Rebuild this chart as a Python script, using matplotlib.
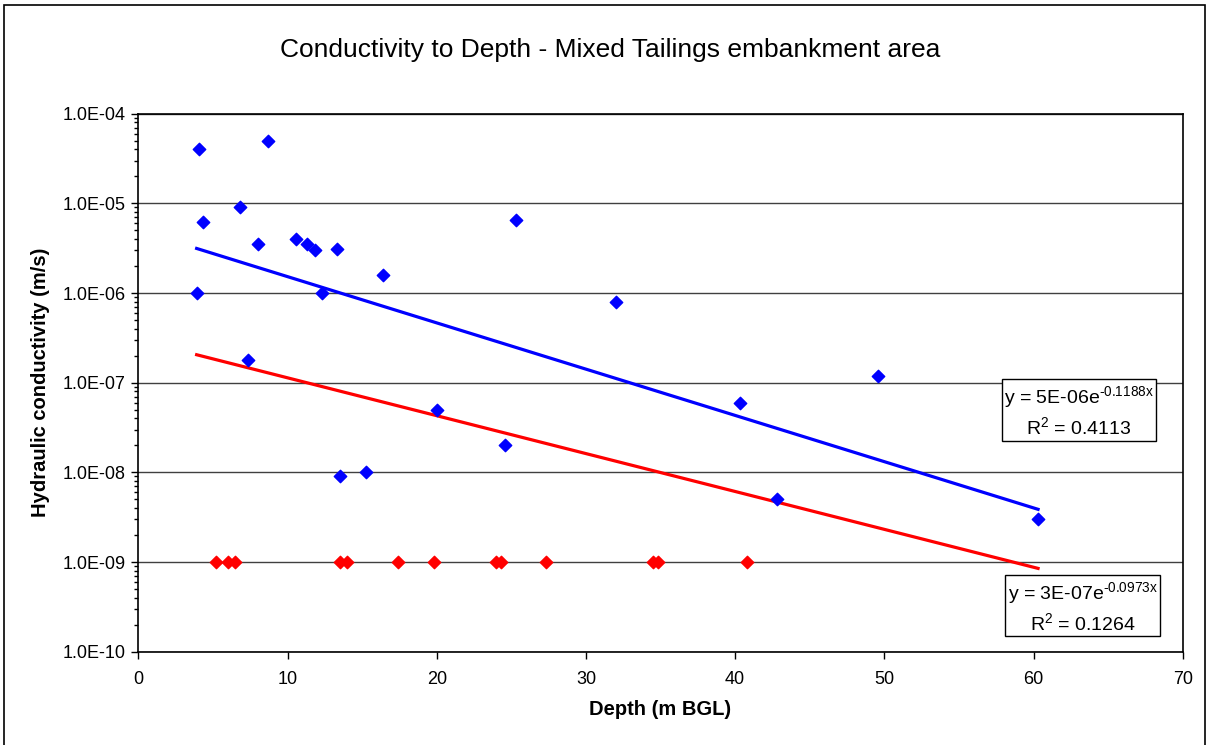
import matplotlib

matplotlib.use("Agg")
import matplotlib.pyplot as plt
import numpy as np
from matplotlib.patches import Rectangle
from matplotlib.ticker import FuncFormatter, LogLocator, NullFormatter

plt.rcParams.update(
    {
        "font.family": ["Liberation Sans", "DejaVu Sans"],
        "mathtext.fontset": "custom",
        "mathtext.rm": "Liberation Sans",
        "mathtext.it": "Liberation Sans:italic",
        "mathtext.bf": "Liberation Sans:bold",
    }
)

# measured conductivity (blue) and values at the detection limit (red)
depth_measured = [4.05, 8.71, 6.82, 4.34, 25.3, 8.0, 10.6, 11.3, 11.85, 13.3,
                  16.4, 3.91, 12.3, 7.37, 13.5, 15.26, 20.0, 24.6, 32.0, 40.3,
                  49.6, 42.8, 60.3]
k_measured = [4.0e-5, 5.0e-5, 9.0e-6, 6.2e-6, 6.5e-6, 3.5e-6, 4.0e-6, 3.5e-6,
              3.0e-6, 3.1e-6, 1.6e-6, 1.0e-6, 1.0e-6, 1.8e-7, 9.0e-9, 1.0e-8,
              5.0e-8, 2.0e-8, 8.0e-7, 6.0e-8, 1.2e-7, 5.0e-9, 3.0e-9]
depth_limit = [5.2, 6.0, 6.5, 13.5, 14.0, 17.4, 19.8, 24.0, 24.3, 27.3,
               34.5, 34.8, 40.8]
k_limit = [1.0e-9] * len(depth_limit)

# exponential trendlines y = a * exp(b x)
fit_measured = (5e-06, -0.1188, 0.4113)
fit_all = (3e-07, -0.0973, 0.1264)

fig = plt.figure(figsize=(12.09, 7.45), dpi=100)
# chart frame, its bottom edge runs off the canvas
fig.patches.append(
    Rectangle((4 / 1209, -0.01), 1201 / 1209, 1.01 - 5 / 745, transform=fig.transFigure,
              fill=False, edgecolor="black", linewidth=1.2)
)
ax = fig.add_axes([138.3 / 1209, 1 - 651.7 / 745, (1182.8 - 138.3) / 1209, (651.7 - 113.7) / 745])

ax.set_yscale("log")
ax.set_xlim(0, 70)
ax.set_ylim(1e-10, 1e-4)

ax.yaxis.set_major_locator(LogLocator(base=10, numticks=10))
ax.yaxis.set_minor_locator(LogLocator(base=10, subs=np.arange(2, 10), numticks=10))
ax.yaxis.set_major_formatter(FuncFormatter(lambda v, _: f"{v:.1E}"))
ax.yaxis.set_minor_formatter(NullFormatter())
ax.set_xticks(range(0, 71, 10))

ax.grid(True, which="major", axis="y", color="#404040", linewidth=1.0)
ax.set_axisbelow(True)
for side in ax.spines.values():
    side.set_color("black")
    side.set_linewidth(1.2)

ax.tick_params(axis="both", which="major", direction="out", length=5, width=1,
               labelsize=13, colors="black")
ax.tick_params(axis="y", which="minor", direction="out", length=3, width=1)
ax.tick_params(axis="x", pad=9)
ax.tick_params(axis="y", pad=4)

ax.scatter(depth_measured, k_measured, marker="D", s=40, color="#0000ff",
           edgecolors="#0000ff", zorder=4)
ax.scatter(depth_limit, k_limit, marker="D", s=40, color="#ff0000",
           edgecolors="#ff0000", zorder=4)

x_lo = min(depth_measured + depth_limit)
x_hi = max(depth_measured + depth_limit)
xs = np.linspace(x_lo, x_hi, 100)
ax.plot(xs, fit_measured[0] * np.exp(fit_measured[1] * xs), color="#0000ff",
        linewidth=2.3, zorder=3)
ax.plot(xs, fit_all[0] * np.exp(fit_all[1] * xs), color="#ff0000",
        linewidth=2.3, zorder=3)


def fit_label(fit):
    a, b, r2 = fit
    return (f"y = {a:.0E}e" + r"$^{\text{" + f"{b:.4f}" + r"x}}$"
            + "\n" + r"R$^{\text{2}}$" + f" = {r2:.4f}")


box = dict(boxstyle="square,pad=0.12", facecolor="white", edgecolor="black", linewidth=1)
ax.text(0.9006, 0.4465, fit_label(fit_measured), transform=ax.transAxes, fontsize=14,
        ha="center", va="center", multialignment="center", linespacing=1.35,
        bbox=box, zorder=5)
ax.text(0.904, 0.083, fit_label(fit_all), transform=ax.transAxes, fontsize=14,
        ha="center", va="center", multialignment="center", linespacing=1.35,
        bbox=box, zorder=5)

fig.text(610 / 1209, 1 - 50 / 745, "Conductivity to Depth - Mixed Tailings embankment area",
         fontsize=19, ha="center", va="center")
ax.set_xlabel("Depth (m BGL)", fontsize=14.5, fontweight="bold")
ax.set_ylabel("Hydraulic conductivity (m/s)", fontsize=14.5, fontweight="bold")
ax.xaxis.set_label_coords(0.5, -0.108)
ax.yaxis.set_label_coords(-0.094, 0.5)
ax.xaxis.label.set_va("center")
ax.yaxis.label.set_va("center")

fig.savefig("out.png", dpi=100)
